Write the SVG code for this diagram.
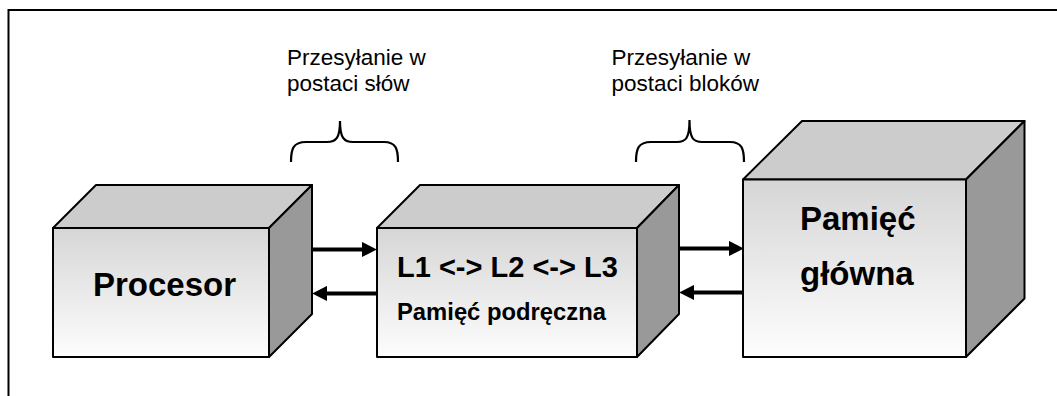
<svg xmlns="http://www.w3.org/2000/svg" width="1057" height="396" viewBox="0 0 1057 396">
<defs>
<linearGradient id="front" x1="0" y1="0" x2="0" y2="1">
<stop offset="0" stop-color="#d6d6d6"/>
<stop offset="1" stop-color="#fdfdfd"/>
</linearGradient>
<marker id="ah" markerWidth="4" markerHeight="4" refX="0" refY="2" orient="auto" markerUnits="strokeWidth">
<path d="M0,0.1 L3.7,2 L0,3.9 Z" fill="#000"/>
</marker>
</defs>
<style>
.front{fill:url(#front);stroke:#000;stroke-width:2;stroke-linejoin:round}
.top{fill:#cccccc;stroke:#000;stroke-width:2;stroke-linejoin:round}
.side{fill:#999999;stroke:#000;stroke-width:2;stroke-linejoin:round}
.big{font-family:"Liberation Sans",Arial,sans-serif;font-weight:bold;fill:#000}
.lbl{font-family:"Liberation Sans",Arial,sans-serif;font-size:22.5px;fill:#000}
.brace{fill:none;stroke:#000;stroke-width:2.2}
.arr{stroke:#000;stroke-width:4;fill:none}
</style>
<rect width="1057" height="396" fill="#fff"/>
<path d="M8.5,396 L8.5,10 L1057,10" fill="none" stroke="#000" stroke-width="2"/>

<g id="label-slow">
<text class="lbl" x="287" y="65">Przesyłanie w</text>
<text class="lbl" x="287" y="91">postaci słów</text>
<path class="brace" d="M291,162 C291,149 293,142 306,142 L327,142 C336,142 340,138 340,121 C340,138 344,142 353,142 L384,142 C396,142 398,149 398,162"/>
</g>
<g id="label-blokow">
<text class="lbl" x="611.5" y="65">Przesyłanie w</text>
<text class="lbl" x="611.5" y="91">postaci bloków</text>
<path class="brace" d="M636,162 C636,149 638,142 651,142 L677,142 C686,142 689.5,138 689.5,120 C689.5,138 693,142 702,142 L730,142 C742,142 744,149 744,162"/>
</g>

<g id="procesor">
<polygon class="top" points="53,228 96,185 312,185 269,228"/>
<polygon class="side" points="269,228 312,185 312,314 269,357"/>
<rect class="front" x="53" y="228" width="216" height="129"/>
<text class="big" x="93" y="296" font-size="33">Procesor</text>
</g>

<g id="cache">
<polygon class="top" points="377,228 420,185 679,185 637,228"/>
<polygon class="side" points="637,228 679,185 679,314 637,357"/>
<rect class="front" x="377" y="228" width="260" height="129"/>
<text class="big" x="397" y="277" font-size="29">L1 &lt;-&gt; L2 &lt;-&gt; L3</text>
<text class="big" x="397" y="319.5" font-size="23.8">Pamięć podręczna</text>
</g>

<g id="pamiec-glowna">
<polygon class="top" points="743,179.5 802,121 1024.5,121 966,179.5"/>
<polygon class="side" points="966,179.5 1024.5,121 1024.5,298.5 966,357"/>
<rect class="front" x="743" y="179.5" width="223" height="177.5"/>
<text class="big" x="800" y="230" font-size="33">Pamięć</text>
<text class="big" x="800" y="284.5" font-size="33">główna</text>
</g>

<g id="connectors">
<line class="arr" x1="312" y1="249.5" x2="362" y2="249.5" marker-end="url(#ah)"/>
<line class="arr" x1="377" y1="293.5" x2="327" y2="293.5" marker-end="url(#ah)"/>
<line class="arr" x1="679" y1="248.5" x2="729" y2="248.5" marker-end="url(#ah)"/>
<line class="arr" x1="743" y1="292.5" x2="694" y2="292.5" marker-end="url(#ah)"/>
</g>
</svg>
